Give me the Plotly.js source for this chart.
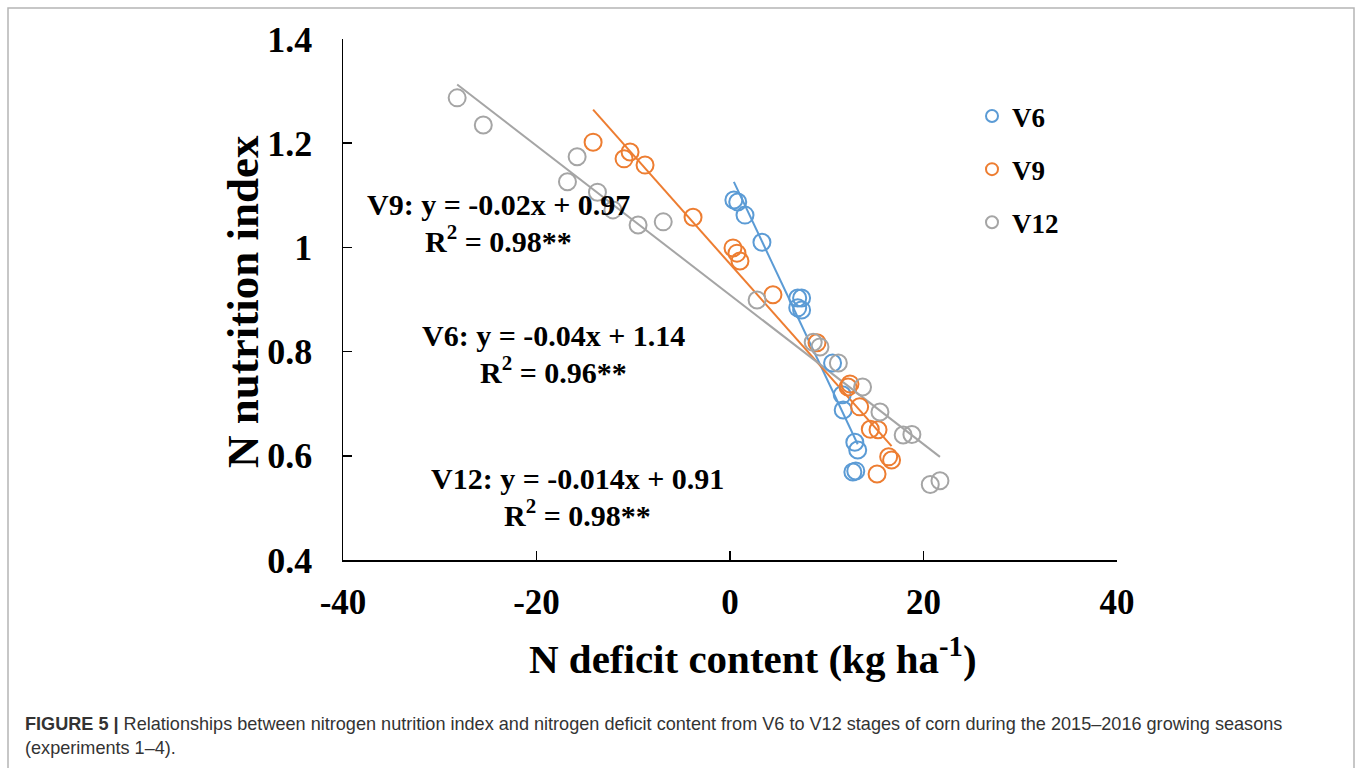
<!DOCTYPE html>
<html>
<head>
<meta charset="utf-8">
<script src="https://cdn.plot.ly/plotly-3.0.1.min.js"></script>
<style>html,body{margin:0;padding:0;background:#fff;}#chart{width:1357px;height:768px;}</style>
</head>
<body>
<div id="chart"></div>
<script>
// ---- data ----
const v6X = [0.4, 0.8, 1.55, 3.3, 7.0, 7.4, 7.0, 7.4, 10.6, 11.6, 11.7, 12.9, 13.2, 12.7, 13.0];
const v6Y = [1.091, 1.087, 1.062, 1.010, 0.903, 0.903, 0.884, 0.880, 0.778, 0.717, 0.688, 0.626, 0.611, 0.569, 0.571];

const v9X = [-14.15, -10.33, -10.95, -8.78, -3.82, 0.31, 0.72, 1.03, 4.44, 8.99, 12.4, 12.2, 13.4, 14.5, 15.3, 16.4, 16.7, 15.2];
const v9Y = [1.202, 1.183, 1.170, 1.158, 1.058, 0.999, 0.989, 0.974, 0.909, 0.817, 0.738, 0.732, 0.694, 0.651, 0.650, 0.598, 0.592, 0.565];

const v12X = [-28.2, -25.5, -15.8, -16.8, -13.7, -12.1, -9.5, -6.9, 2.8, 8.6, 9.3, 11.2, 13.7, 15.5, 17.9, 18.8, 20.7, 21.7];
const v12Y = [1.287, 1.235, 1.174, 1.126, 1.106, 1.072, 1.043, 1.049, 0.899, 0.818, 0.809, 0.778, 0.732, 0.684, 0.640, 0.641, 0.545, 0.552];

const seriesNames = ["V6", "V9", "V12"];
const eqLines = [
  "V9: y = -0.02x + 0.97", "R<sup>2</sup> = 0.98**",
  "V6: y = -0.04x + 1.14", "R<sup>2</sup> = 0.96**",
  "V12: y = -0.014x + 0.91", "R<sup>2</sup> = 0.98**"
];
const xTicks = [-40, -20, 0, 20, 40];
const xTickText = ["-40", "-20", "0", "20", "40"];
const yTicks = [0.4, 0.6, 0.8, 1.0, 1.2, 1.4];
const yTickText = ["0.4", "0.6", "0.8", "1", "1.2", "1.4"];
const xTitle = "N deficit content (kg ha<sup>-1</sup>)";
const yTitle = "N nutrition index";
const captionText = "<b>FIGURE 5 |</b> Relationships between nitrogen nutrition index and nitrogen deficit content from V6 to V12 stages of corn during the 2015–2016 growing seasons<br>(experiments 1–4).";

// ---- styling ----
const colors = ["#5B9BD5", "#ED7D31", "#A5A5A5"];
const serif = "Liberation Serif, Times New Roman, serif";
const W = 1357, H = 768;
const L = 343, R = 1117, T = 39, B = 560;
function px2paperX(p){ return (p - L) / (R - L); }
function px2paperY(p){ return (B - p) / (B - T); }

function fit(xs, ys){
  const n = xs.length;
  const mx = xs.reduce((a,b)=>a+b,0)/n, my = ys.reduce((a,b)=>a+b,0)/n;
  let sxy = 0, sxx = 0;
  for (let i=0;i<n;i++){ sxy += (xs[i]-mx)*(ys[i]-my); sxx += (xs[i]-mx)*(xs[i]-mx); }
  const m = sxy/sxx, c = my - m*mx;
  const x0 = Math.min(...xs), x1 = Math.max(...xs);
  return {x:[x0,x1], y:[m*x0+c, m*x1+c]};
}

const sets = [[v6X,v6Y],[v9X,v9Y],[v12X,v12Y]];
const traces = [];
sets.forEach((s,i)=>{
  const f = fit(s[0], s[1]);
  traces.push({x:f.x, y:f.y, mode:"lines", type:"scatter", showlegend:false, hoverinfo:"skip",
    line:{color:colors[i], width:2}});
});
sets.forEach((s,i)=>{
  traces.push({x:s[0], y:s[1], mode:"markers", type:"scatter", name:seriesNames[i], legendgroup:seriesNames[i],
    marker:{symbol:"circle-open", size:17, color:colors[i], line:{width:2, color:colors[i]}}});
});

// equation text positions (pixel centres)
const eqPx = [[498,204],[498,239],[553,335],[553,370],[577,478],[577,513]];
const annotations = eqLines.map((t,i)=>({
  x: px2paperX(eqPx[i][0]), y: px2paperY(eqPx[i][1]), xref:"paper", yref:"paper", text:t, showarrow:false,
  xanchor:"center", yanchor:"middle",
  font:{family:serif, size:30, color:"#000", weight:"bold"}
}));
annotations.push({
  x: px2paperX(753), y: px2paperY(656), xref:"paper", yref:"paper", text:xTitle, showarrow:false,
  xanchor:"center", yanchor:"middle",
  font:{family:serif, size:41, color:"#000", weight:"bold"}
});
annotations.push({
  x: px2paperX(243), y: px2paperY(302), xref:"paper", yref:"paper", text:yTitle, showarrow:false,
  textangle:-90, xanchor:"center", yanchor:"middle",
  font:{family:serif, size:45, color:"#000", weight:"bold"}
});
annotations.push({
  x: px2paperX(23), y: px2paperY(736), xref:"paper", yref:"paper", text:captionText, showarrow:false,
  align:"left", xanchor:"left", yanchor:"middle",
  font:{family:"Liberation Sans, Arial, sans-serif", size:18.1, color:"#333"}
});

const layout = {
  width:W, height:H,
  margin:{l:L, r:W-R, t:T, b:H-B, pad:0},
  paper_bgcolor:"#fff", plot_bgcolor:"#fff",
  showlegend:true,
  legend:{x:px2paperX(972), y:px2paperY(92), xanchor:"left", yanchor:"top",
    font:{family:serif, size:27, color:"#000", weight:"bold"},
    itemsizing:"constant", tracegroupgap:15, bgcolor:"rgba(0,0,0,0)"},
  xaxis:{range:[-40,40], tickvals:xTicks, ticktext:xTickText, ticks:"inside", ticklen:9, tickwidth:1.5, tickcolor:"#000",
    showline:true, linecolor:"#000", linewidth:1.5, showgrid:false, zeroline:false,
    tickfont:{family:serif, size:35, color:"#000", weight:"bold"}, ticklabelstandoff:10},
  yaxis:{range:[0.4,1.4], tickvals:yTicks, ticktext:yTickText, ticks:"inside", ticklen:9, tickwidth:1.5, tickcolor:"#000",
    showline:true, linecolor:"#000", linewidth:1.5, showgrid:false, zeroline:false,
    tickfont:{family:serif, size:36, color:"#000", weight:"bold"}, ticklabelstandoff:22},
  annotations:annotations,
  shapes:[{type:"rect", xref:"paper", yref:"paper",
    x0:px2paperX(8), x1:px2paperX(1354), y0:px2paperY(772), y1:px2paperY(8),
    line:{color:"#b5b5b5", width:1.5}, fillcolor:"rgba(0,0,0,0)", layer:"below"}]
};

Plotly.newPlot("chart", traces, layout, {displayModeBar:false, staticPlot:true});
</script>
</body>
</html>
